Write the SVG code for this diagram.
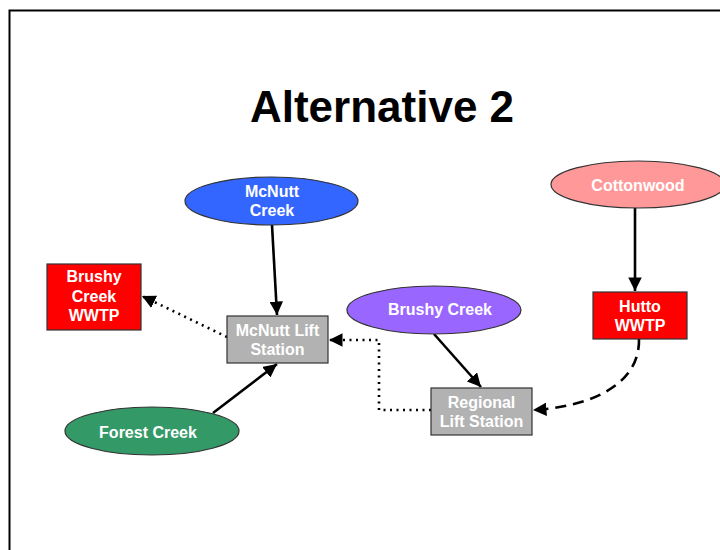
<svg xmlns="http://www.w3.org/2000/svg" width="720" height="550" viewBox="0 0 720 550">
<style>
.lbl{font-family:"Liberation Sans",Arial,sans-serif;font-weight:bold;font-size:16px;fill:#fff;text-anchor:middle}
.title{font-family:"Liberation Sans",Arial,sans-serif;font-weight:bold;font-size:44px;fill:#000;text-anchor:middle}
.shp{stroke:#333;stroke-width:1.2}
.c{fill:none;stroke:#000;stroke-width:2.6}
.dot{stroke-dasharray:2 4.5}
.dash{stroke-dasharray:11 7}
</style>
<defs>
<marker id="ah" viewBox="0 0 10 10" refX="10" refY="5" markerWidth="5.2" markerHeight="5.2" orient="auto" markerUnits="strokeWidth">
<path d="M0,0 L10,5 L0,10 z" fill="#000"/>
</marker>
</defs>
<rect x="0" y="0" width="720" height="550" fill="#fff"/>
<path d="M9.5,560 L9.5,10.5 L730,10.5" fill="none" stroke="#000" stroke-width="2"/>
<text class="title" x="382" y="122">Alternative 2</text>

<g id="connectors">
<line class="c" x1="272" y1="225" x2="277" y2="315" marker-end="url(#ah)"/>
<line class="c" x1="213" y1="413" x2="277" y2="364" marker-end="url(#ah)"/>
<line class="c dot" x1="227" y1="337" x2="142" y2="296" marker-end="url(#ah)"/>
<polyline class="c dot" points="431,410 379,410 379,340 329,340" marker-end="url(#ah)"/>
<line class="c" x1="434" y1="334" x2="481" y2="387" marker-end="url(#ah)"/>
<line class="c" x1="635" y1="208" x2="635" y2="291" marker-end="url(#ah)"/>
<path class="c dash" d="M639,339 C640,385 590,407 533,410" marker-end="url(#ah)"/>
</g>

<g id="mcnutt-creek">
<ellipse class="shp" cx="271.5" cy="201" rx="86.5" ry="24" fill="#3366FF"/>
<text class="lbl" x="272" y="197">McNutt</text>
<text class="lbl" x="272" y="216">Creek</text>
</g>
<g id="brushy-creek-wwtp">
<rect class="shp" x="47" y="264" width="94" height="66" fill="#FF0000"/>
<text class="lbl" x="94" y="282">Brushy</text>
<text class="lbl" x="94" y="302">Creek</text>
<text class="lbl" x="94" y="321">WWTP</text>
</g>
<g id="mcnutt-lift-station">
<rect class="shp" x="227" y="316" width="101" height="47" fill="#B2B2B2"/>
<text class="lbl" x="277.5" y="335.5">McNutt Lift</text>
<text class="lbl" x="277.5" y="355">Station</text>
</g>
<g id="forest-creek">
<ellipse class="shp" cx="152" cy="431" rx="87" ry="24" fill="#339966"/>
<text class="lbl" x="148" y="438">Forest Creek</text>
</g>
<g id="brushy-creek">
<ellipse class="shp" cx="434" cy="310" rx="87" ry="24" fill="#9966FF"/>
<text class="lbl" x="440" y="315">Brushy Creek</text>
</g>
<g id="cottonwood">
<ellipse class="shp" cx="638" cy="184.5" rx="87" ry="23.5" fill="#FF9999"/>
<text class="lbl" x="638" y="191">Cottonwood</text>
</g>
<g id="hutto-wwtp">
<rect class="shp" x="593" y="292" width="94" height="47" fill="#FF0000"/>
<text class="lbl" x="640" y="312">Hutto</text>
<text class="lbl" x="640" y="331">WWTP</text>
</g>
<g id="regional-lift-station">
<rect class="shp" x="431" y="388" width="101" height="47" fill="#B2B2B2"/>
<text class="lbl" x="481.5" y="408">Regional</text>
<text class="lbl" x="481.5" y="427">Lift Station</text>
</g>
</svg>
